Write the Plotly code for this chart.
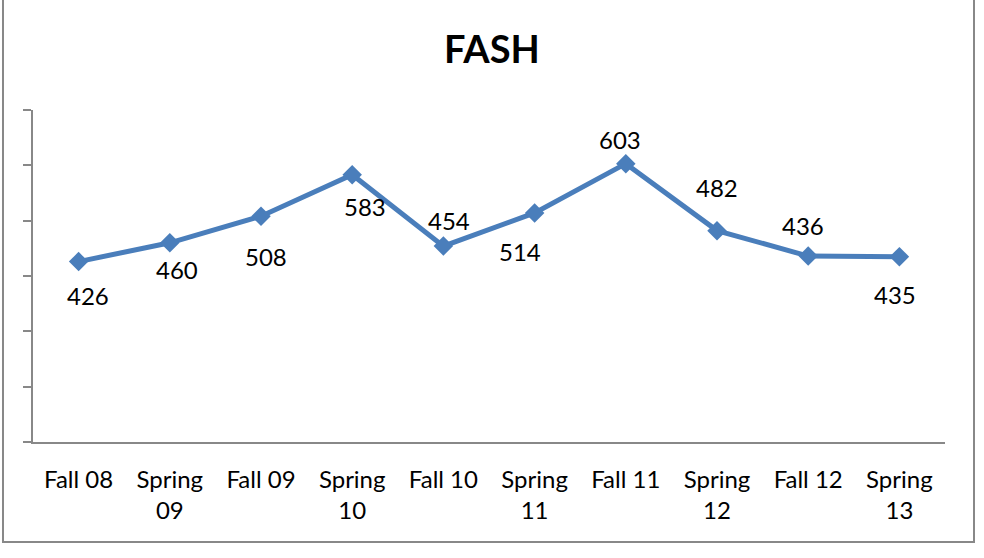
import plotly.graph_objects as go

categories = ["Fall 08", "Spring 09", "Fall 09", "Spring 10", "Fall 10",
              "Spring 11", "Fall 11", "Spring 12", "Fall 12", "Spring 13"]
tick_labels = ["Fall 08", "Spring<br>09", "Fall 09", "Spring<br>10", "Fall 10",
               "Spring<br>11", "Fall 11", "Spring<br>12", "Fall 12", "Spring<br>13"]
values = [426, 460, 508, 583, 454, 514, 603, 482, 436, 435]

# label offsets in pixels (style only)
label_dx = [9, 7, 5, 13, 6, -15, -6, 0, -5, -4]
label_dy = [-34, -27, -40, -32, 26, -39, 24, 43, 31, -38]

FONT = "Lato, Calibri, Carlito, sans-serif"
BLUE = "#4A7EBB"
GRAY = "#888888"

fig = go.Figure()
fig.add_trace(go.Scatter(
    x=categories, y=values, mode="lines+markers",
    line=dict(color=BLUE, width=5),
    marker=dict(symbol="diamond", size=15, color=BLUE),
    hoverinfo="x+y", showlegend=False,
))

for c, v, dx, dy in zip(categories, values, label_dx, label_dy):
    fig.add_annotation(x=c, y=v, text=str(v), showarrow=False,
                       xshift=dx, yshift=dy,
                       font=dict(family=FONT, size=24, color="black"))

# outer chart frame
fig.add_shape(type="rect", xref="paper", yref="paper",
              x0=-0.0329, x1=1.0318, y0=-0.301, y1=1.36,
              line=dict(color=GRAY, width=2), layer="below")

fig.update_layout(
    width=984, height=558,
    margin=dict(l=33, r=39, t=110, b=116),
    paper_bgcolor="white", plot_bgcolor="white",
    title=dict(text="<b>FASH</b>", x=0.5, xanchor="center",
               y=1 - 50 / 558, yanchor="middle",
               font=dict(family=FONT, size=38, color="black")),
    xaxis=dict(
        type="category", tickmode="array", tickvals=categories, ticktext=tick_labels,
        showline=True, linecolor=GRAY, linewidth=1.5, showgrid=False,
        ticks="", ticklabelstandoff=15,
        tickfont=dict(family=FONT, size=24, color="black"),
        range=[-0.5, len(categories) - 0.5], zeroline=False,
    ),
    yaxis=dict(
        range=[100, 700], dtick=100, showticklabels=False,
        showline=True, linecolor=GRAY, linewidth=1.5, showgrid=False,
        ticks="outside", ticklen=8, tickcolor=GRAY, tickwidth=1.5,
        zeroline=False,
    ),
)

fig.write_html("out.html", config={"displayModeBar": False},
               post_script="document.body.style.margin='0';document.body.style.overflow='hidden';")
